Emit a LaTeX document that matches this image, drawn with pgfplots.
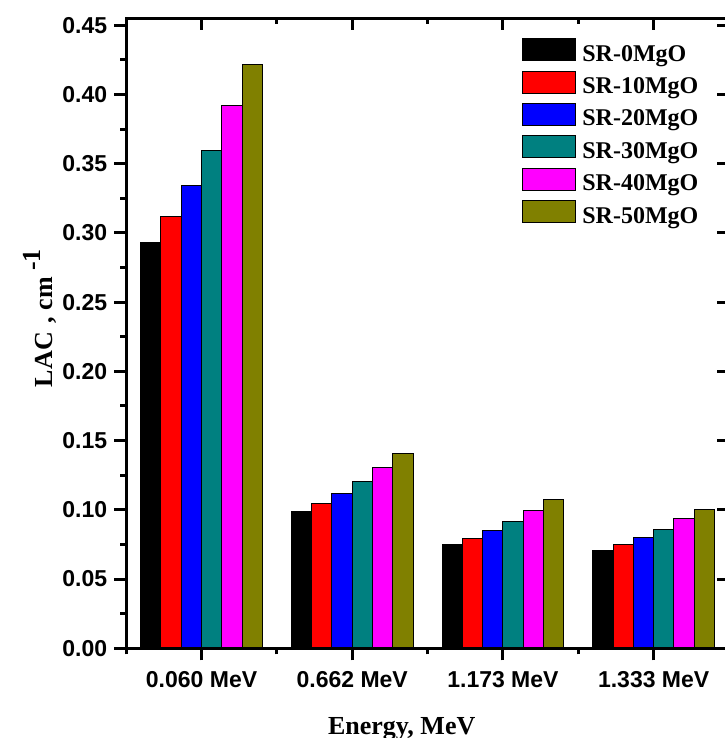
\documentclass[border=0pt]{standalone}
\usepackage{fontspec}
\setmainfont{Liberation Serif}
\setsansfont{Liberation Sans}
\usepackage{pgfplots}
\usepackage{pgfplotstable}
\pgfplotsset{compat=1.18}

\definecolor{srteal}{RGB}{0,128,128}
\definecolor{srolive}{RGB}{128,128,0}
\definecolor{srmagenta}{RGB}{255,0,255}

% LAC values
\pgfplotstableread{
x s0 s10 s20 s30 s40 s50
0 0.2931 0.3119 0.3341 0.3596 0.3922 0.4218
1 0.0987 0.1045 0.1115 0.1204 0.1308 0.1406
2 0.0749 0.0795 0.0853 0.0913 0.0997 0.1072
3 0.0703 0.0747 0.0799 0.0857 0.0935 0.1005
}\lacdata

\pgfplotsset{
  lacframe/.style={
    scale only axis, width=301.4pt, height=315pt,
    xmin=-0.5, xmax=3.5, ymin=0, ymax=0.455,
    xtick={0,1,2,3},
    minor xtick={-0.5,0.5,1.5,2.5,3.5},
    ytick={0,0.05,0.10,0.15,0.20,0.25,0.30,0.35,0.40,0.45},
    major tick length=6pt, minor tick length=3pt,
    every tick/.style={line width=1.5pt, black},
    axis line style={line width=1.5pt},
  }
}

\begin{document}
\begin{tikzpicture}
\begin{axis}[
    lacframe,
    ybar=0pt, bar width=0.1347,
    minor y tick num=1,
    xtick pos=bottom, ytick pos=left, tick align=outside,
    xticklabels={0.060 MeV,0.662 MeV,1.173 MeV,1.333 MeV},
    /pgf/number format/assume math mode=true,
    yticklabel style={/pgf/number format/.cd, fixed, fixed zerofill, precision=2},
    tick label style={font=\sffamily\bfseries\fontsize{11.5}{13}\selectfont},
    xticklabel style={yshift=-2pt},
    xlabel={Energy, MeV},
    ylabel={LAC\hskip 4.5pt, cm\kern 3pt\raisebox{0.45em}{-1}},
    label style={font=\bfseries\fontsize{13}{15}\selectfont},
    xlabel style={at={(rel axis cs:0.457,0)}, anchor=base, yshift=-43pt},
    ylabel style={at={(rel axis cs:0,0.524)}, anchor=center, yshift=43pt},
    legend image code/.code={\draw[#1, line width=0.5pt] (0pt,-3pt) rectangle (26.5pt,8pt);},
    legend style={at={(rel axis cs:0.6566,0.969)}, anchor=north west, draw=none, fill=none,
        font=\bfseries\fontsize{12}{14}\selectfont, inner sep=0pt, row sep=1.2pt,
        column sep=1pt, legend cell align=left},
]
\addplot[fill=black, draw=black, line width=0.5pt] table[x=x, y=s0] {\lacdata};
\addplot[fill=red, draw=black, line width=0.5pt] table[x=x, y=s10] {\lacdata};
\addplot[fill=blue, draw=black, line width=0.5pt] table[x=x, y=s20] {\lacdata};
\addplot[fill=srteal, draw=black, line width=0.5pt] table[x=x, y=s30] {\lacdata};
\addplot[fill=srmagenta, draw=black, line width=0.5pt] table[x=x, y=s40] {\lacdata};
\addplot[fill=srolive, draw=black, line width=0.5pt] table[x=x, y=s50] {\lacdata};
\legend{SR-0MgO, SR-10MgO, SR-20MgO, SR-30MgO, SR-40MgO, SR-50MgO}
\end{axis}
% mirror ticks on top and right, pointing inwards
\begin{axis}[
    lacframe,
    xtick pos=top, ytick pos=right, tick align=inside,
    xticklabels={}, yticklabels={},
]
\end{axis}
\pgfresetboundingbox
\useasboundingbox (-63.1pt,-44.85pt) rectangle (298.9pt,324.15pt);
\end{tikzpicture}
\end{document}
